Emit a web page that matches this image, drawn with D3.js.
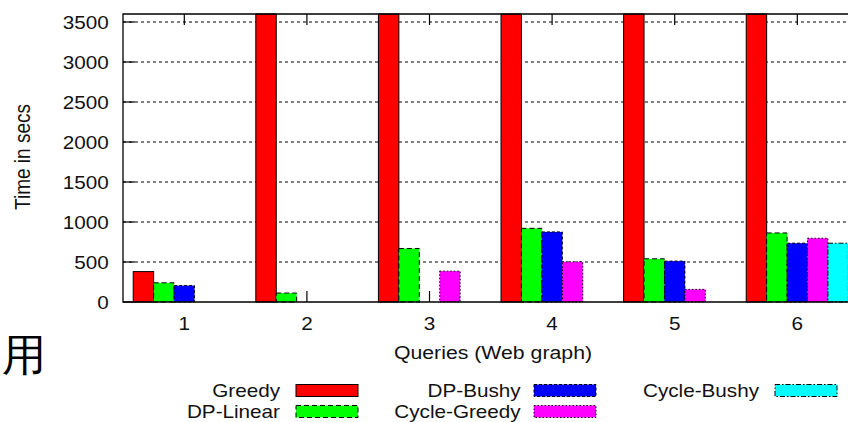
<!DOCTYPE html>
<html>
<head>
<meta charset="utf-8">
<script src="https://cdn.jsdelivr.net/npm/d3@7"></script>
<style>
  body { margin: 0; background: #fff; }
  svg { display: block; }
  text { font-family: "Liberation Sans", Arial, sans-serif; fill: #111; }
</style>
</head>
<body>
<div id="chart"></div>
<script>
// data (Greedy timed out at 3600 s for queries 2-6)
const queries = ["1", "2", "3", "4", "5", "6"];
const seriesNames = ["Greedy", "DP-Linear", "DP-Bushy", "Cycle-Greedy", "Cycle-Bushy"];
const greedy      = [380, 3600, 3600, 3600, 3600, 3600];
const dpLinear    = [240, 112, 669, 921, 540, 863];
const dpBushy     = [205, null, null, 876, 511, 735];
const cycleGreedy = [null, null, 386, 502, 158, 797];
const cycleBushy  = [null, null, null, null, null, 735];
const yTicks = [0, 500, 1000, 1500, 2000, 2500, 3000, 3500];

const seriesValues = [greedy, dpLinear, dpBushy, cycleGreedy, cycleBushy];
const colors = ["#ff0000", "#00ff00", "#0000ff", "#ff00ff", "#00ffff"];
const dashes = [null, "5,3", "3,2", "1.5,2", "5,2,1.5,2"];

const W = 848, H = 422;
const plot = { left: 123, top: 14, bottom: 302, right: 858.6 };
const sx = 1.15; // the original figure is stretched sideways

const svg = d3.select("#chart").append("svg")
    .attr("width", W)
    .attr("height", H);

// helper: horizontally stretched text
function label(g, x, y, str, anchor, size) {
    return g.append("text")
        .attr("transform", `translate(${x},${y}) scale(${sx},1)`)
        .attr("text-anchor", anchor)
        .attr("font-size", size + "px")
        .text(str);
}

// scales
const x = d3.scaleBand()
    .domain(queries)
    .range([plot.left, plot.right]);
const bw = x.bandwidth();
const xs = d3.scaleBand()
    .domain(seriesNames)
    .range([bw / 12, bw * 11 / 12]);
const y = d3.scaleLinear()
    .domain([0, 3600])
    .range([plot.bottom, plot.top]);

// gridlines
svg.append("g").selectAll("line")
    .data(yTicks.filter(d => d > 0))
    .enter().append("line")
    .attr("x1", plot.left).attr("x2", W)
    .attr("y1", d => y(d)).attr("y2", d => y(d))
    .attr("stroke", "#000")
    .attr("stroke-width", 1)
    .attr("stroke-dasharray", "3,3");

// y ticks + labels
svg.append("g").selectAll("line")
    .data(yTicks)
    .enter().append("line")
    .attr("x1", plot.left).attr("x2", plot.left + 12)
    .attr("y1", d => y(d)).attr("y2", d => y(d))
    .attr("stroke", "#000").attr("stroke-width", 1.2);
const yl = svg.append("g");
yTicks.forEach(t => label(yl, 108.7, y(t) + 6.5, String(t), "end", 18));

// x ticks (bottom and mirrored top) + labels
const xt = svg.append("g");
queries.forEach(q => {
    const cx = x(q) + bw / 2;
    xt.append("line").attr("x1", cx).attr("x2", cx)
        .attr("y1", plot.bottom).attr("y2", plot.bottom - 11)
        .attr("stroke", "#000").attr("stroke-width", 1.2);
    xt.append("line").attr("x1", cx).attr("x2", cx)
        .attr("y1", plot.top).attr("y2", plot.top + 11)
        .attr("stroke", "#000").attr("stroke-width", 1.2);
    label(xt, cx, 330, q, "middle", 18);
});

// bars
seriesNames.forEach((name, i) => {
    const rows = queries.map((q, j) => ({ q, v: seriesValues[i][j] }))
        .filter(d => d.v != null);
    svg.append("g").selectAll("rect")
        .data(rows)
        .enter().append("rect")
        .attr("x", d => x(d.q) + xs(name))
        .attr("width", xs.bandwidth())
        .attr("y", d => y(d.v))
        .attr("height", d => y(0) - y(d.v))
        .attr("fill", colors[i])
        .attr("stroke", "#000")
        .attr("stroke-width", 1)
        .attr("stroke-dasharray", dashes[i]);
});

// frame
svg.append("path")
    .attr("d", `M${W},${plot.top}H${plot.left}V${plot.bottom}H${W}`)
    .attr("fill", "none")
    .attr("stroke", "#000")
    .attr("stroke-width", 1.3);

// axis titles
label(svg, 493, 359, "Queries (Web graph)", "middle", 18.5);
svg.append("text")
    .attr("transform", `translate(30,157) rotate(-90) scale(1,${sx})`)
    .attr("text-anchor", "middle")
    .attr("font-size", "19px")
    .text("Time in secs");

// legend, two rows, filled column by column
const legendCols = [
    { textX: 280, boxX: 296 },
    { textX: 520.7, boxX: 534 },
    { textX: 759, boxX: 775 }
];
const legendRows = [390.5, 411.5];
const lg = svg.append("g");
seriesNames.forEach((name, i) => {
    const c = legendCols[Math.floor(i / 2)], r = legendRows[i % 2];
    label(lg, c.textX, r + 6.5, name, "end", 18);
    lg.append("rect")
        .attr("x", c.boxX).attr("y", r - 6)
        .attr("width", 62).attr("height", 12)
        .attr("fill", colors[i])
        .attr("stroke", "#000")
        .attr("stroke-width", 1)
        .attr("stroke-dasharray", dashes[i]);
});

// stray character at the left
svg.append("text")
    .attr("x", 2).attr("y", 370)
    .attr("font-family", "'Noto Sans CJK SC', sans-serif")
    .attr("font-size", "44px")
    .style("fill", "#000")
    .text("用");
</script>
</body>
</html>
